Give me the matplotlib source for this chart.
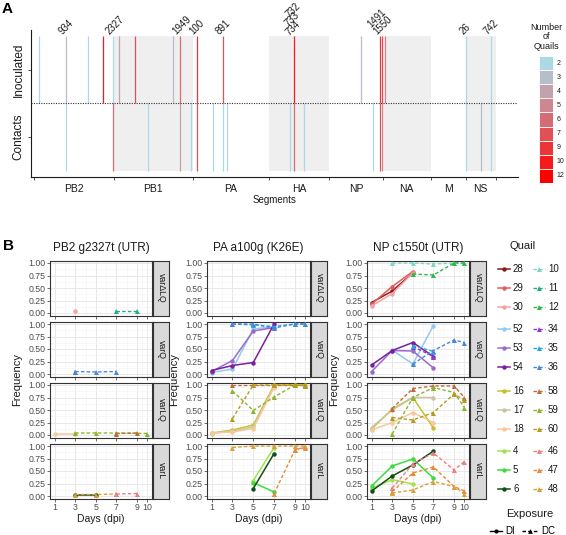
import matplotlib
matplotlib.use('Agg')
import matplotlib.pyplot as plt
import numpy as np

plt.rcParams['font.family'] = ['Liberation Sans', 'DejaVu Sans']

W, H = 566, 535

# ---- panel A data ----
seg_names = ['PB2', 'PB1', 'PA', 'HA', 'NP', 'NA', 'M', 'NS']
seg_len = [2341, 2341, 2233, 1778, 1565, 1413, 1027, 890]

inoc_seg = ['PB2', 'PB2', 'PB2', 'PB2', 'PB2', 'PB1', 'PB1', 'PB1', 'PB1', 'PA', 'PA', 'HA', 'NP', 'NP', 'NP', 'NA', 'NS', 'NS']
inoc_pos = [156, 934, 1597, 2029, 2327, 159, 621, 1756, 1949, 100, 891, 733, 933, 1491, 1550, 66, 26, 742]
inoc_n = [2, 3, 2, 10, 2, 4, 7, 3, 6, 9, 7, 10, 3, 9, 7, 5, 2, 2]

cont_seg = ['PB2', 'PB2', 'PB1', 'PB1', 'PB1', 'PA', 'PA', 'PA', 'PA', 'HA', 'HA', 'HA', 'NP', 'NP', 'NP', 'NS', 'NS', 'NS']
cont_pos = [934, 2327, 1003, 1949, 2277, 100, 574, 891, 986, 606, 733, 1017, 1286, 1491, 1550, 26, 446, 742]
cont_n = [2, 6, 2, 4, 2, 7, 2, 2, 2, 2, 6, 2, 2, 7, 5, 2, 3, 2]

lab_seg = ['PB2', 'PB2', 'PB1', 'PA', 'PA', 'HA', 'HA', 'HA', 'NP', 'NP', 'NS', 'NS']
lab_pos = [934, 2327, 1949, 100, 891, 734, 733, 732, 1550, 1491, 26, 742]
lab_dx = [-2, -2, -2, -2, -2, -3, -4, -3, -3, -7, -2, -2]
lab_dy = [0, 0, 0, 0, 0, -1, 8, 17, 0, 7, 0, 0]

n_levels = [2, 3, 4, 5, 6, 7, 9, 10, 12]

# ---- panel B data ----
DAYS = [1, 3, 5, 7, 9, 10]
N = None

pb2_dlq = {30: [N, 0.05, N, N, N, N], 11: [N, N, N, 0.04, 0.04, N]}
pb2_q = {34: [N, 0.05, N, N, N, N], 36: [N, 0.05, 0.04, 0.05, N, N]}
pb2_lq = {18: [0.03, 0.03, N, N, N, N], 59: [N, 0.04, 0.04, 0.04, N, 0.03], 58: [N, N, N, 0.03, 0.04, N]}
pb2_l = {6: [N, 0.03, 0.03, N, N, N], 48: [N, 0.03, 0.03, 0.04, N, N], 46: [N, N, N, 0.04, 0.05, N]}

pa_dlq = {}
pa_q = {52: [0.03, 0.10, 0.90, 0.95, N, N], 53: [0.05, 0.27, 0.86, 0.93, N, N],
        54: [0.07, 0.17, 0.23, 1.00, N, N], 35: [N, 1.00, 0.98, 0.95, 1.00, 1.00],
        36: [N, 1.00, 1.00, 0.92, 1.00, 1.00]}
pa_lq = {16: [0.04, 0.10, 0.20, 1.00, 1.00, 1.00], 17: [0.03, 0.08, 0.16, 0.98, N, N],
         18: [0.04, 0.06, 0.13, 0.95, N, N], 58: [N, 1.00, 1.00, 1.00, 1.00, 1.00],
         59: [N, 0.88, 0.49, 0.76, 1.00, 0.98], 60: [N, 0.33, 1.00, 1.00, 1.00, 0.99]}
pa_l = {4: [N, N, 0.31, 0.97, N, N], 5: [N, N, 0.27, 0.08, N, N], 6: [N, N, 0.15, 0.85, N, N],
        46: [N, N, N, N, 0.93, 0.97], 47: [N, N, N, 0.05, 0.92, 0.98], 48: [N, 0.97, 1.00, 1.00, 1.00, 1.00]}

np_dlq = {28: [0.21, 0.44, 0.80, N, N, N], 29: [0.18, 0.53, 0.83, N, N, N], 30: [0.14, 0.39, 0.80, N, N, N],
          10: [N, 1.00, 1.00, 0.98, 1.00, 1.00], 12: [N, N, 0.78, 0.76, 1.00, 1.00]}
np_q = {52: [N, 0.48, 0.20, 0.97, N, N], 53: [0.05, 0.47, 0.46, 0.12, N, N],
        54: [0.18, 0.47, 0.63, 0.35, N, N], 34: [N, N, 0.55, 0.35, N, N],
        35: [N, N, 0.57, 0.45, N, N], 36: [N, N, 0.20, 0.47, 0.68, 0.63]}
np_lq = {16: [0.12, 0.52, 0.75, 0.14, N, N], 17: [0.15, 0.50, 0.75, 0.75, N, N],
         18: [0.10, 0.25, 0.45, 0.25, N, N], 58: [N, 0.53, 0.93, 0.98, 0.98, 0.75],
         59: [N, 0.02, 0.75, 0.95, 0.85, 0.55], 60: [N, 0.35, 0.30, 0.45, 0.82, 0.70]}
np_l = {4: [0.15, 0.33, 0.24, N, N, N], 5: [0.20, 0.60, 0.74, 0.36, N, N], 6: [0.10, 0.40, 0.62, 0.90, N, N],
        46: [N, 0.16, 0.64, 0.86, 0.52, 0.69], 47: [N, 0.09, 0.46, 0.58, 0.19, 0.10],
        48: [N, 0.06, 0.12, 0.29, 0.19, 0.05]}

titles = ['PB2 g2327t (UTR)', 'PA a100g (K26E)', 'NP c1550t (UTR)']
strip_labels = ['varΔLQ', 'varQ', 'varLQ', 'varL']
DI = [28, 29, 30, 52, 53, 54, 16, 17, 18, 4, 5, 6]
DC = [10, 11, 12, 34, 35, 36, 58, 59, 60, 46, 47, 48]

qcol = {28: '#8B1A1A', 29: '#E45B5B', 30: '#F4A3A3', 10: '#7FD6C6', 11: '#1FAE8A', 12: '#2DB84B',
        52: '#93C9F2', 53: '#9A6BC9', 54: '#7A1FA0', 34: '#9B35CF', 35: '#22A7E0', 36: '#4787D9',
        16: '#C7C02F', 17: '#C9C5A0', 18: '#F6C89C', 58: '#C06A3C', 59: '#8DB52B', 60: '#B39B1E',
        4: '#A3E34E', 5: '#3DDB3D', 6: '#124D1C', 46: '#EE7F7F', 47: '#E8873A', 48: '#D9A03A'}


def px_rect(l, t, r, b):
    return [l / W, 1 - b / H, (r - l) / W, (b - t) / H]


fig = plt.figure(figsize=(W / 100, H / 100), dpi=100)

# ================= A =================
lo, hi = np.array([173, 216, 230]) / 255, np.array([255, 0, 0]) / 255
ncol = {n: tuple(lo + (hi - lo) * i / (len(n_levels) - 1)) for i, n in enumerate(n_levels)}
edges = np.concatenate([[0], np.cumsum(seg_len)])
seg_start = dict(zip(seg_names, edges[:-1]))

axA = fig.add_axes(px_rect(31, 30, 518, 177))
for i in range(len(seg_names)):
    if i % 2 == 1:
        axA.fill_between([edges[i], edges[i + 1]], 0.5, 2.5, color='#efefef', lw=0, zorder=0)

xi = [seg_start[s] + p for s, p in zip(inoc_seg, inoc_pos)]
axA.vlines(xi, 1.5, 2.5, colors=[ncol[n] for n in inoc_n], lw=0.9, zorder=2)
xc = [seg_start[s] + p for s, p in zip(cont_seg, cont_pos)]
axA.vlines(xc, 0.5, 1.5, colors=[ncol[n] for n in cont_n], lw=0.9, zorder=2)
axA.axhline(1.5, color='#333333', ls=(0, (1, 1.2)), lw=0.8, zorder=3)

for s, p, dx, dy in zip(lab_seg, lab_pos, lab_dx, lab_dy):
    axA.annotate(str(p), (seg_start[s] + p, 2.5), xytext=(dx, dy), textcoords='offset pixels',
                 rotation=45, rotation_mode='anchor', ha='left', va='bottom', fontsize=7,
                 color='#1a1a1a', annotation_clip=False)

axA.set_xlim(-90, 14240)
axA.set_ylim(0.403, 2.597)
for sp in ['top', 'right']:
    axA.spines[sp].set_visible(False)
for sp in ['left', 'bottom']:
    axA.spines[sp].set_color('#1a1a1a')
    axA.spines[sp].set_linewidth(0.8)
axA.set_xticks(edges)
axA.set_xticklabels([])
axA.set_xticks((edges[:-1] + edges[1:]) / 2, minor=True)
axA.set_xticklabels(seg_names, minor=True, fontsize=7.5, color='#1a1a1a')
axA.tick_params(axis='x', which='minor', length=0, pad=5)
axA.tick_params(axis='x', which='major', length=2.5, width=0.6, color='#333333')
axA.set_yticks([1, 2])
axA.set_yticklabels(['Contacts', 'Inoculated'], rotation=90, va='center', fontsize=8.5, color='#1a1a1a')
axA.tick_params(axis='y', length=2.5, width=0.6, color='#333333', pad=2)
axA.set_xlabel('Segments', fontsize=7, labelpad=1, color='#1a1a1a')

# legend: Number of Quails
axL = fig.add_axes(px_rect(539, 56, 553, 183))
for i, n in enumerate(n_levels):
    axL.bar(0, 1, bottom=len(n_levels) - 1 - i, width=1, color=ncol[n], edgecolor='white', lw=0.6)
    axL.text(0.75, len(n_levels) - 0.5 - i, str(n), fontsize=5, va='center', ha='left', color='#1a1a1a')
axL.set_xlim(-0.5, 0.5)
axL.set_ylim(0, len(n_levels))
axL.axis('off')
fig.text(546 / W, 1 - 37 / H, 'Number\nof\nQuails', ha='center', va='center', fontsize=6.5,
         linespacing=1.05, color='#1a1a1a')

fig.text(7 / W, 1 - 9 / H, 'A', fontsize=11, fontweight='bold', ha='center', va='center')
fig.text(9 / W, 1 - 246 / H, 'B', fontsize=11, fontweight='bold', ha='center', va='center')

# ================= B =================
cols = [(50, 152), (207, 310), (367, 469)]
rows = [(260.5, 315.5), (321.5, 376.5), (382.5, 437.5), (443.5, 498.5)]
panels = [[pb2_dlq, pb2_q, pb2_lq, pb2_l],
          [pa_dlq, pa_q, pa_lq, pa_l],
          [np_dlq, np_q, np_lq, np_l]]

for ci, (l, r) in enumerate(cols):
    for ri, (t, b) in enumerate(rows):
        ax = fig.add_axes(px_rect(l, t, r, b))
        data = panels[ci][ri]
        for q, vals in data.items():
            d = [x for x, v in zip(DAYS, vals) if v is not None]
            v = [v for v in vals if v is not None]
            if q in DI:
                ax.plot(d, v, color=qcol[q], lw=1.1, marker='o', ms=3.2, mew=0, zorder=3)
            else:
                ax.plot(d, v, color=qcol[q], lw=1.0, ls=(0, (2.5, 1.6)), marker='^', ms=3.6, mew=0, zorder=3)
        ax.set_xlim(0.55, 10.45)
        ax.set_ylim(-0.05, 1.05)
        ax.set_xticks(DAYS)
        ax.set_xticks([2, 4, 6, 8, 9.5], minor=True)
        ax.set_yticks([0, 0.25, 0.5, 0.75, 1.0])
        ax.set_yticks([0.125, 0.375, 0.625, 0.875], minor=True)
        ax.set_yticklabels(['0.00', '0.25', '0.50', '0.75', '1.00'], fontsize=6.3, color='#4d4d4d')
        if ri == 3:
            ax.set_xticklabels([str(d) for d in DAYS], fontsize=6.3, color='#4d4d4d')
        else:
            ax.set_xticklabels([])
        ax.grid(which='major', color='#e8e8e8', lw=0.7)
        ax.grid(which='minor', color='#f3f3f3', lw=0.4)
        ax.set_axisbelow(True)
        ax.tick_params(which='major', length=2, width=0.5, color='#333333', pad=1.5)
        ax.tick_params(which='minor', length=0)
        for sp in ax.spines.values():
            sp.set_color('#333333')
            sp.set_linewidth(0.8)
        sax = fig.add_axes(px_rect(r + 1, t, r + 17, b))
        sax.set_facecolor('#d9d9d9')
        sax.set_xticks([])
        sax.set_yticks([])
        for sp in sax.spines.values():
            sp.set_color('#333333')
            sp.set_linewidth(0.8)
        sax.text(0.5, 0.5, strip_labels[ri], rotation=270, ha='center', va='center',
                 fontsize=6.3, color='#1a1a1a', transform=sax.transAxes)
    fig.text((l + r) / 2 / W, 1 - 248 / H, titles[ci], ha='center', va='center', fontsize=8.5, color='#1a1a1a')
    fig.text((l - 33) / W, 1 - 379.5 / H, 'Frequency', rotation=90, ha='center', va='center', fontsize=8, color='#1a1a1a')
    fig.text((l + r) / 2 / W, 1 - 519 / H, 'Days (dpi)', ha='center', va='center', fontsize=7.5, color='#1a1a1a')

# legend: Quail / Exposure
axQ = fig.add_axes(px_rect(487, 236, 566, 535))
axQ.set_xlim(487, 566)
axQ.set_ylim(535, 236)
axQ.axis('off')
row_y = [269, 288, 307, 329, 348, 367, 391, 410, 429, 451, 470, 489]
axQ.text(523, 246, 'Quail', ha='center', va='center', fontsize=8, color='#1a1a1a')
for y, q1, q2 in zip(row_y, DI, DC):
    axQ.plot([498, 510], [y, y], color=qcol[q1], lw=1.1)
    axQ.plot([504], [y], color=qcol[q1], marker='o', ms=3.2, mew=0)
    axQ.text(513, y, str(q1), ha='left', va='center', fontsize=7, color='#1a1a1a')
    axQ.plot([533, 545], [y, y], color=qcol[q2], lw=1.0, ls=(0, (2.5, 1.6)))
    axQ.plot([539], [y], color=qcol[q2], marker='^', ms=3.6, mew=0)
    axQ.text(548, y, str(q2), ha='left', va='center', fontsize=7, color='#1a1a1a')
axQ.text(530, 514, 'Exposure', ha='center', va='center', fontsize=8, color='#1a1a1a')
axQ.plot([490, 502], [531, 531], color='black', lw=1.0)
axQ.plot([496], [531], color='black', marker='o', ms=3, mew=0)
axQ.text(505, 531, 'DI', ha='left', va='center', fontsize=7)
axQ.plot([522, 538], [531, 531], color='black', lw=1.0, ls=(0, (2.5, 1.6)))
axQ.plot([530], [531], color='black', marker='^', ms=3.4, mew=0)
axQ.text(541, 531, 'DC', ha='left', va='center', fontsize=7)

fig.savefig('out.png', dpi=100, facecolor='white')
